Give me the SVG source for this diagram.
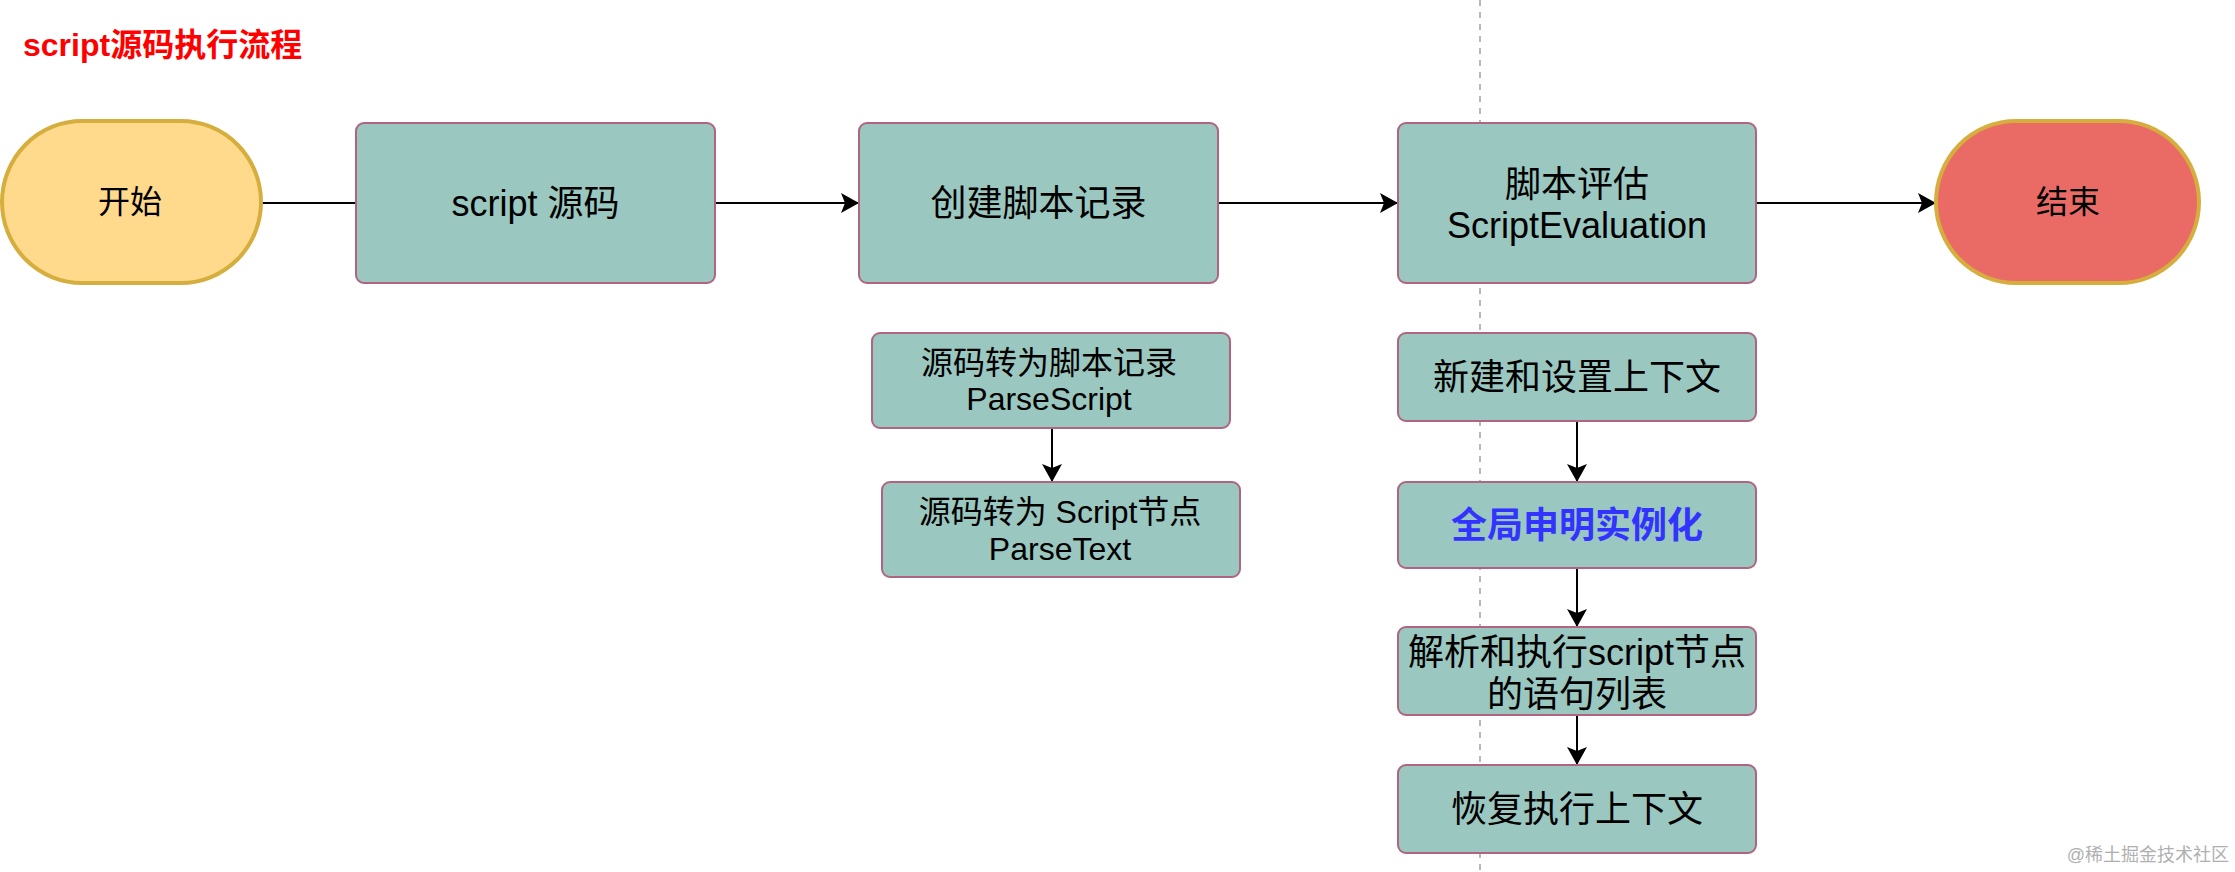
<svg xmlns="http://www.w3.org/2000/svg" width="2235" height="872" viewBox="0 0 2235 872">
<style>
  text { font-family: "Liberation Sans", "Noto Sans CJK SC", sans-serif; fill: #000; }
  .box { fill: #9AC7BF; stroke: #B0647F; stroke-width: 2; }
  .term { stroke: #D6AE3E; stroke-width: 4; }
  .c36 { font-size: 36px; text-anchor: middle; }
  .c32 { font-size: 32px; text-anchor: middle; }
  .c31 { font-size: 32px; text-anchor: middle; }
  .edge { stroke: #000; stroke-width: 2; fill: none; }
</style>
<defs>
  <marker id="arr" markerUnits="userSpaceOnUse" markerWidth="19" markerHeight="20" refX="18" refY="10" orient="auto">
    <path d="M0,0 L18,10 L0,20 L4,10 Z" fill="#000"/>
  </marker>
</defs>
<rect width="2235" height="872" fill="#fff"/>
<line x1="1480" y1="0" x2="1480" y2="872" stroke="#B8B8B8" stroke-width="2" stroke-dasharray="6 6"/>
<text x="23" y="56" style="font-size:32px;font-weight:bold;fill:#FF0000">script源码执行流程</text>
<g id="connectors">
  <line class="edge" x1="261" y1="203" x2="356" y2="203"/>
  <line class="edge" x1="715" y1="203" x2="859" y2="203" marker-end="url(#arr)"/>
  <line class="edge" x1="1218" y1="203" x2="1398" y2="203" marker-end="url(#arr)"/>
  <line class="edge" x1="1756" y1="203" x2="1936" y2="203" marker-end="url(#arr)"/>
  <line class="edge" x1="1052" y1="428" x2="1052" y2="482" marker-end="url(#arr)"/>
  <line class="edge" x1="1577" y1="421" x2="1577" y2="482" marker-end="url(#arr)"/>
  <line class="edge" x1="1577" y1="568" x2="1577" y2="627" marker-end="url(#arr)"/>
  <line class="edge" x1="1577" y1="715" x2="1577" y2="765" marker-end="url(#arr)"/>
</g>
<g id="start">
  <rect class="term" x="2" y="121" width="259" height="162" rx="80" ry="81" fill="#FFD98C"/>
  <text class="c32" x="130" y="213">开始</text>
</g>
<g id="source">
  <rect class="box" x="356" y="123" width="359" height="160" rx="8"/>
  <text class="c36" x="535.5" y="216">script 源码</text>
</g>
<g id="create">
  <rect class="box" x="859" y="123" width="359" height="160" rx="8"/>
  <text class="c36" x="1038.5" y="216">创建脚本记录</text>
</g>
<g id="evaluate">
  <rect class="box" x="1398" y="123" width="358" height="160" rx="8"/>
  <text class="c36" x="1577" y="197">脚本评估</text>
  <text class="c36" x="1577" y="238">ScriptEvaluation</text>
</g>
<g id="end">
  <rect class="term" x="1936" y="121" width="263" height="162" rx="80" ry="81" fill="#EA6B66"/>
  <text class="c32" x="2068" y="213">结束</text>
</g>
<g id="parseScript">
  <rect class="box" x="872" y="333" width="358" height="95" rx="8"/>
  <text class="c31" x="1049" y="374">源码转为脚本记录</text>
  <text class="c31" x="1049" y="410">ParseScript</text>
</g>
<g id="parseText">
  <rect class="box" x="882" y="482" width="358" height="95" rx="8"/>
  <text class="c31" x="1060" y="523">源码转为 Script节点</text>
  <text class="c31" x="1060" y="560">ParseText</text>
</g>
<g id="newContext">
  <rect class="box" x="1398" y="333" width="358" height="88" rx="8"/>
  <text class="c36" x="1577" y="390">新建和设置上下文</text>
</g>
<g id="globalDecl">
  <rect class="box" x="1398" y="482" width="358" height="86" rx="8"/>
  <text class="c36" x="1577" y="538" style="font-weight:bold;fill:#3333FF">全局申明实例化</text>
</g>
<g id="execList">
  <rect class="box" x="1398" y="627" width="358" height="88" rx="8"/>
  <text class="c36" x="1577" y="665">解析和执行script节点</text>
  <text class="c36" x="1577" y="707">的语句列表</text>
</g>
<g id="restore">
  <rect class="box" x="1398" y="765" width="358" height="88" rx="8"/>
  <text class="c36" x="1577" y="822">恢复执行上下文</text>
</g>
<text x="2229" y="861" style="font-size:18px;text-anchor:end;fill:#B0B0B0">@稀土掘金技术社区</text>
</svg>
